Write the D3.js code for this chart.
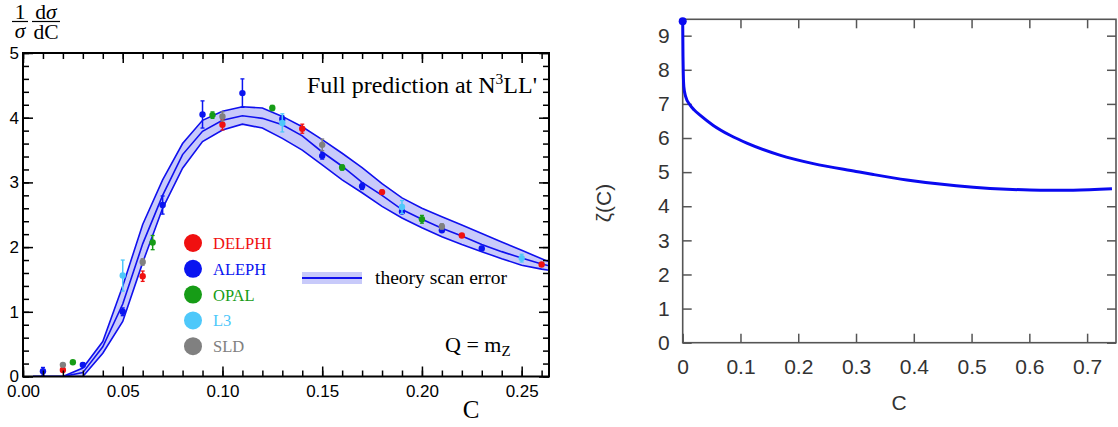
<!DOCTYPE html>
<html><head><meta charset="utf-8">
<script src="https://cdn.jsdelivr.net/npm/d3@7"></script>
<style>body{margin:0;background:#fff}svg{display:block}</style>
</head><body>
<svg id="c" width="1118" height="427"></svg>
<script>
// ---------- Left panel data ----------
const theoryC  = [0.005,0.01,0.02,0.03,0.04,0.05,0.06,0.07,0.08,0.09,0.10,0.11,0.12,0.13,0.14,0.15,0.16,0.17,0.18,0.19,0.20,0.21,0.22,0.23,0.24,0.25,0.26,0.264];
const theoryUp = [0,0,0,0.13,0.54,1.40,2.35,3.04,3.60,3.96,4.10,4.17,4.15,4.02,3.86,3.66,3.45,3.23,2.98,2.76,2.60,2.47,2.34,2.21,2.08,1.95,1.82,1.77];
const theoryMid= [0,0,0,0.06,0.46,1.12,2.05,2.80,3.43,3.79,3.96,4.03,3.99,3.89,3.72,3.47,3.25,3.00,2.80,2.58,2.43,2.29,2.17,2.04,1.93,1.83,1.74,1.71];
const theoryLo = [0,0,0,0,0.36,0.85,1.76,2.60,3.22,3.63,3.81,3.90,3.84,3.68,3.50,3.27,3.04,2.84,2.63,2.45,2.30,2.16,2.04,1.93,1.82,1.72,1.66,1.64];

const delphiC = [0.02,0.06,0.10,0.14,0.18,0.22,0.26];
const delphiV = [0.10,1.55,3.89,3.83,2.85,2.18,1.73];
const delphiE = [0.02,0.08,0.08,0.07,0.03,0.02,0.02];
const alephC = [0.01,0.03,0.05,0.07,0.09,0.11,0.13,0.15,0.17,0.19,0.21,0.23];
const alephV = [0.08,0.18,1.00,2.65,4.05,4.38,3.98,3.41,2.94,2.55,2.26,1.98];
const alephE = [0.06,0.03,0.06,0.14,0.21,0.22,0.05,0.05,0.05,0.03,0.03,0.03];
const opalC = [0.025,0.065,0.095,0.125,0.16,0.20];
const opalV = [0.22,2.07,4.04,4.15,3.23,2.43];
const opalE = [0.01,0.11,0.05,0.04,0.04,0.06];
const l3C = [0.05,0.13,0.19,0.25];
const l3V = [1.56,3.92,2.62,1.83];
const l3E = [0.24,0.14,0.10,0.06];
const sldC = [0.02,0.06,0.10,0.15,0.21];
const sldV = [0.18,1.77,4.02,3.58,2.32];
const sldE = [0.02,0.05,0.07,0.09,0.04];

const experiments = ["DELPHI","ALEPH","OPAL","L3","SLD"];
const expColors = ["#f01010","#0a14f0","#169c16","#4ec8fa","#808080"];

const leftXTicks = [0,0.05,0.10,0.15,0.20,0.25];
const leftYTicks = [0,1,2,3,4,5];

// ---------- Right panel data ----------
const zetaC = [0,0.0005,0.001,0.002,0.005,0.0126,0.02,0.03,0.053,0.082,0.111,0.168,0.226,0.30,0.33,0.388,0.445,0.503,0.561,0.619,0.676,0.743];
const zetaV = [9.42,8.4,7.9,7.5,7.22,6.97,6.82,6.67,6.37,6.08,5.85,5.50,5.25,5.02,4.93,4.77,4.65,4.56,4.50,4.47,4.47,4.51];
const rightXTicks = [0,0.1,0.2,0.3,0.4,0.5,0.6,0.7];
const rightYTicks = [0,1,2,3,4,5,6,7,8,9];

const svg = d3.select("#c");
const serif = "'Liberation Serif','Times New Roman',serif";
const sans = "'Liberation Sans',Arial,Helvetica,sans-serif";

// ================= LEFT PANEL =================
const xL = d3.scaleLinear().domain([0,0.2637]).range([23,549]);
const yL = d3.scaleLinear().domain([0,5]).range([376.5,53]);
const L = svg.append("g");

L.append("clipPath").attr("id","clipL").append("rect")
  .attr("x",xL(0)).attr("y",yL(5)).attr("width",xL(0.2637)-xL(0)).attr("height",yL(0)-yL(5));

const band = theoryC.map((c,i)=>({c,u:theoryUp[i],m:theoryMid[i],l:theoryLo[i]}));
const gB = L.append("g").attr("clip-path","url(#clipL)");
gB.append("path").datum(band)
  .attr("d",d3.area().x(d=>xL(d.c)).y0(d=>yL(d.l)).y1(d=>yL(d.u)))
  .attr("fill","#c8cafa");
["u","m","l"].forEach(k=>{
  gB.append("path").datum(band)
    .attr("d",d3.line().x(d=>xL(d.c)).y(d=>yL(d[k])))
    .attr("fill","none").attr("stroke","#1010ee").attr("stroke-width",1.6);
});

// data points
const expData = [
  {name:"ALEPH", c:alephC, v:alephV, e:alephE},
  {name:"DELPHI", c:delphiC, v:delphiV, e:delphiE},
  {name:"OPAL", c:opalC, v:opalV, e:opalE},
  {name:"L3", c:l3C, v:l3V, e:l3E},
  {name:"SLD", c:sldC, v:sldV, e:sldE}
];
expData.forEach(ex=>{
  const col = expColors[experiments.indexOf(ex.name)];
  const pts = ex.c.map((c,i)=>({c,v:ex.v[i],e:ex.e[i]}));
  const g = L.append("g").attr("stroke",col).attr("fill",col);
  pts.forEach(p=>{
    const x = xL(p.c), y1 = yL(p.v+p.e), y2 = yL(p.v-p.e);
    g.append("line").attr("x1",x).attr("x2",x).attr("y1",y1).attr("y2",y2).attr("stroke-width",1.5);
    g.append("line").attr("x1",x-2).attr("x2",x+2).attr("y1",y1).attr("y2",y1).attr("stroke-width",1.3);
    g.append("line").attr("x1",x-2).attr("x2",x+2).attr("y1",y2).attr("y2",y2).attr("stroke-width",1.3);
    g.append("circle").attr("cx",x).attr("cy",yL(p.v)).attr("r",3.2).attr("stroke","none");
  });
});

// axes (inward ticks)
function styleAx(g){ g.select(".domain").remove(); g.selectAll("line").attr("stroke","#000").attr("stroke-width",1.5); }
const minorX = d3.range(0,0.2637,0.01);
const minorY = d3.range(0,5.001,0.2);
L.append("g").attr("transform",`translate(0,${yL(0)})`)
  .call(d3.axisBottom(xL).tickValues(minorX).tickSize(-6).tickFormat("")).call(styleAx);
L.append("g").attr("transform",`translate(0,${yL(5)})`)
  .call(d3.axisTop(xL).tickValues(minorX).tickSize(-6).tickFormat("")).call(styleAx);
L.append("g").attr("transform",`translate(${xL(0)},0)`)
  .call(d3.axisLeft(yL).tickValues(minorY).tickSize(-6).tickFormat("")).call(styleAx);
L.append("g").attr("transform",`translate(${xL(0.2637)},0)`)
  .call(d3.axisRight(yL).tickValues(minorY).tickSize(-6).tickFormat("")).call(styleAx);

const axB = L.append("g").attr("transform",`translate(0,${yL(0)})`)
  .call(d3.axisBottom(xL).tickValues(leftXTicks).tickSize(-10).tickPadding(8).tickFormat(d3.format(".2f"))).call(styleAx);
axB.selectAll("text").attr("font-family",sans).attr("font-size",17).attr("fill","#000");
L.append("g").attr("transform",`translate(0,${yL(5)})`)
  .call(d3.axisTop(xL).tickValues(leftXTicks).tickSize(-10).tickFormat("")).call(styleAx);
const axLft = L.append("g").attr("transform",`translate(${xL(0)},0)`)
  .call(d3.axisLeft(yL).tickValues(leftYTicks).tickSize(-10).tickPadding(4).tickFormat(d3.format("d"))).call(styleAx);
axLft.selectAll("text").attr("font-family",sans).attr("font-size",17).attr("fill","#000");
L.append("g").attr("transform",`translate(${xL(0.2637)},0)`)
  .call(d3.axisRight(yL).tickValues(leftYTicks).tickSize(-10).tickFormat("")).call(styleAx);

L.append("rect").attr("x",xL(0)).attr("y",yL(5)).attr("width",xL(0.2637)-xL(0)).attr("height",yL(0)-yL(5))
  .attr("fill","none").attr("stroke","#000").attr("stroke-width",2);

// y label fraction
const fr = L.append("g").attr("font-family",serif).attr("font-size",21.5).attr("fill","#000").attr("text-anchor","middle");
fr.append("text").attr("x",20).attr("y",19).text("1");
fr.append("line").attr("x1",12).attr("x2",28).attr("y1",21.5).attr("y2",21.5).attr("stroke","#000").attr("stroke-width",1.2);
fr.append("text").attr("x",20).attr("y",38).attr("font-style","italic").text("σ");
const t1 = fr.append("text").attr("x",46).attr("y",19);
t1.append("tspan").text("d"); t1.append("tspan").attr("font-style","italic").text("σ");
fr.append("line").attr("x1",32).attr("x2",60).attr("y1",21.5).attr("y2",21.5).attr("stroke","#000").attr("stroke-width",1.2);
fr.append("text").attr("x",46).attr("y",38.5).text("dC");

L.append("text").attr("x",471).attr("y",418).attr("text-anchor","middle")
  .attr("font-family",serif).attr("font-size",25).text("C");

// title
const tt = L.append("text").attr("x",537).attr("y",93).attr("text-anchor","end")
  .attr("font-family",serif).attr("font-size",24);
tt.append("tspan").text("Full prediction at N");
tt.append("tspan").attr("font-size",15.5).attr("dy",-9).text("3");
tt.append("tspan").attr("dy",9).text("LL'");

// legend experiments
experiments.forEach((n,i)=>{
  const y = 243 + i*25.8;
  L.append("circle").attr("cx",193).attr("cy",y).attr("r",9).attr("fill",expColors[i]);
  L.append("text").attr("x",213).attr("y",y+6).attr("font-family",serif).attr("font-size",16.5)
    .attr("fill",expColors[i]).text(n);
});
// legend theory
L.append("rect").attr("x",302).attr("y",272).attr("width",60).attr("height",12).attr("fill","#c8cafa");
L.append("line").attr("x1",302).attr("x2",362).attr("y1",278).attr("y2",278).attr("stroke","#1010ee").attr("stroke-width",2);
L.append("text").attr("x",375).attr("y",284).attr("font-family",serif).attr("font-size",19.5).text("theory scan error");

const q = L.append("text").attr("x",445).attr("y",352).attr("font-family",serif).attr("font-size",22);
q.append("tspan").text("Q = m");
q.append("tspan").attr("font-size",15).attr("dy",4).text("Z");

// ================= RIGHT PANEL =================
const xR = d3.scaleLinear().domain([0,0.75]).range([682.7,1116]);
const yR = d3.scaleLinear().domain([0,9.48]).range([342.7,19.3]);
const R = svg.append("g");
const axCol = "#555";
function styleR(g){ g.select(".domain").remove(); g.selectAll("line").attr("stroke",axCol).attr("stroke-width",1.5); }

const rb = R.append("g").attr("transform",`translate(0,${yR(0)})`)
  .call(d3.axisBottom(xR).tickValues(rightXTicks).tickSize(-9).tickPadding(16).tickFormat(d3.format("~g"))).call(styleR);
rb.selectAll("text").attr("font-family",sans).attr("font-size",21).attr("fill","#333");
R.append("g").attr("transform",`translate(0,${yR(9.48)})`)
  .call(d3.axisTop(xR).tickValues(rightXTicks).tickSize(-9).tickFormat("")).call(styleR);
const rl = R.append("g").attr("transform",`translate(${xR(0)},0)`)
  .call(d3.axisLeft(yR).tickValues(rightYTicks).tickSize(-9).tickPadding(13).tickFormat(d3.format("d"))).call(styleR);
rl.selectAll("text").attr("font-family",sans).attr("font-size",21).attr("fill","#333");
R.append("g").attr("transform",`translate(${xR(0.75)},0)`)
  .call(d3.axisRight(yR).tickValues(rightYTicks).tickSize(-9).tickFormat("")).call(styleR);
R.append("rect").attr("x",xR(0)).attr("y",yR(9.48)).attr("width",xR(0.75)-xR(0)).attr("height",yR(0)-yR(9.48))
  .attr("fill","none").attr("stroke",axCol).attr("stroke-width",1.6);

const zeta = zetaC.map((c,i)=>({c,v:zetaV[i]}));
R.append("path").datum(zeta)
  .attr("d",d3.line().x(d=>xR(d.c)).y(d=>yR(d.v)).curve(d3.curveMonotoneX))
  .attr("fill","none").attr("stroke","#0a0af0").attr("stroke-width",3);
R.append("circle").attr("cx",xR(zetaC[0])).attr("cy",yR(zetaV[0])).attr("r",4).attr("fill","#0a0af0");

R.append("text").attr("x",899).attr("y",410).attr("text-anchor","middle")
  .attr("font-family",sans).attr("font-size",21).attr("fill","#333").text("C");
R.append("text").attr("transform","translate(611,203) rotate(-90)").attr("text-anchor","middle")
  .attr("font-family",sans).attr("font-size",21).attr("fill","#333").text("ζ(C)");
</script>
</body></html>
